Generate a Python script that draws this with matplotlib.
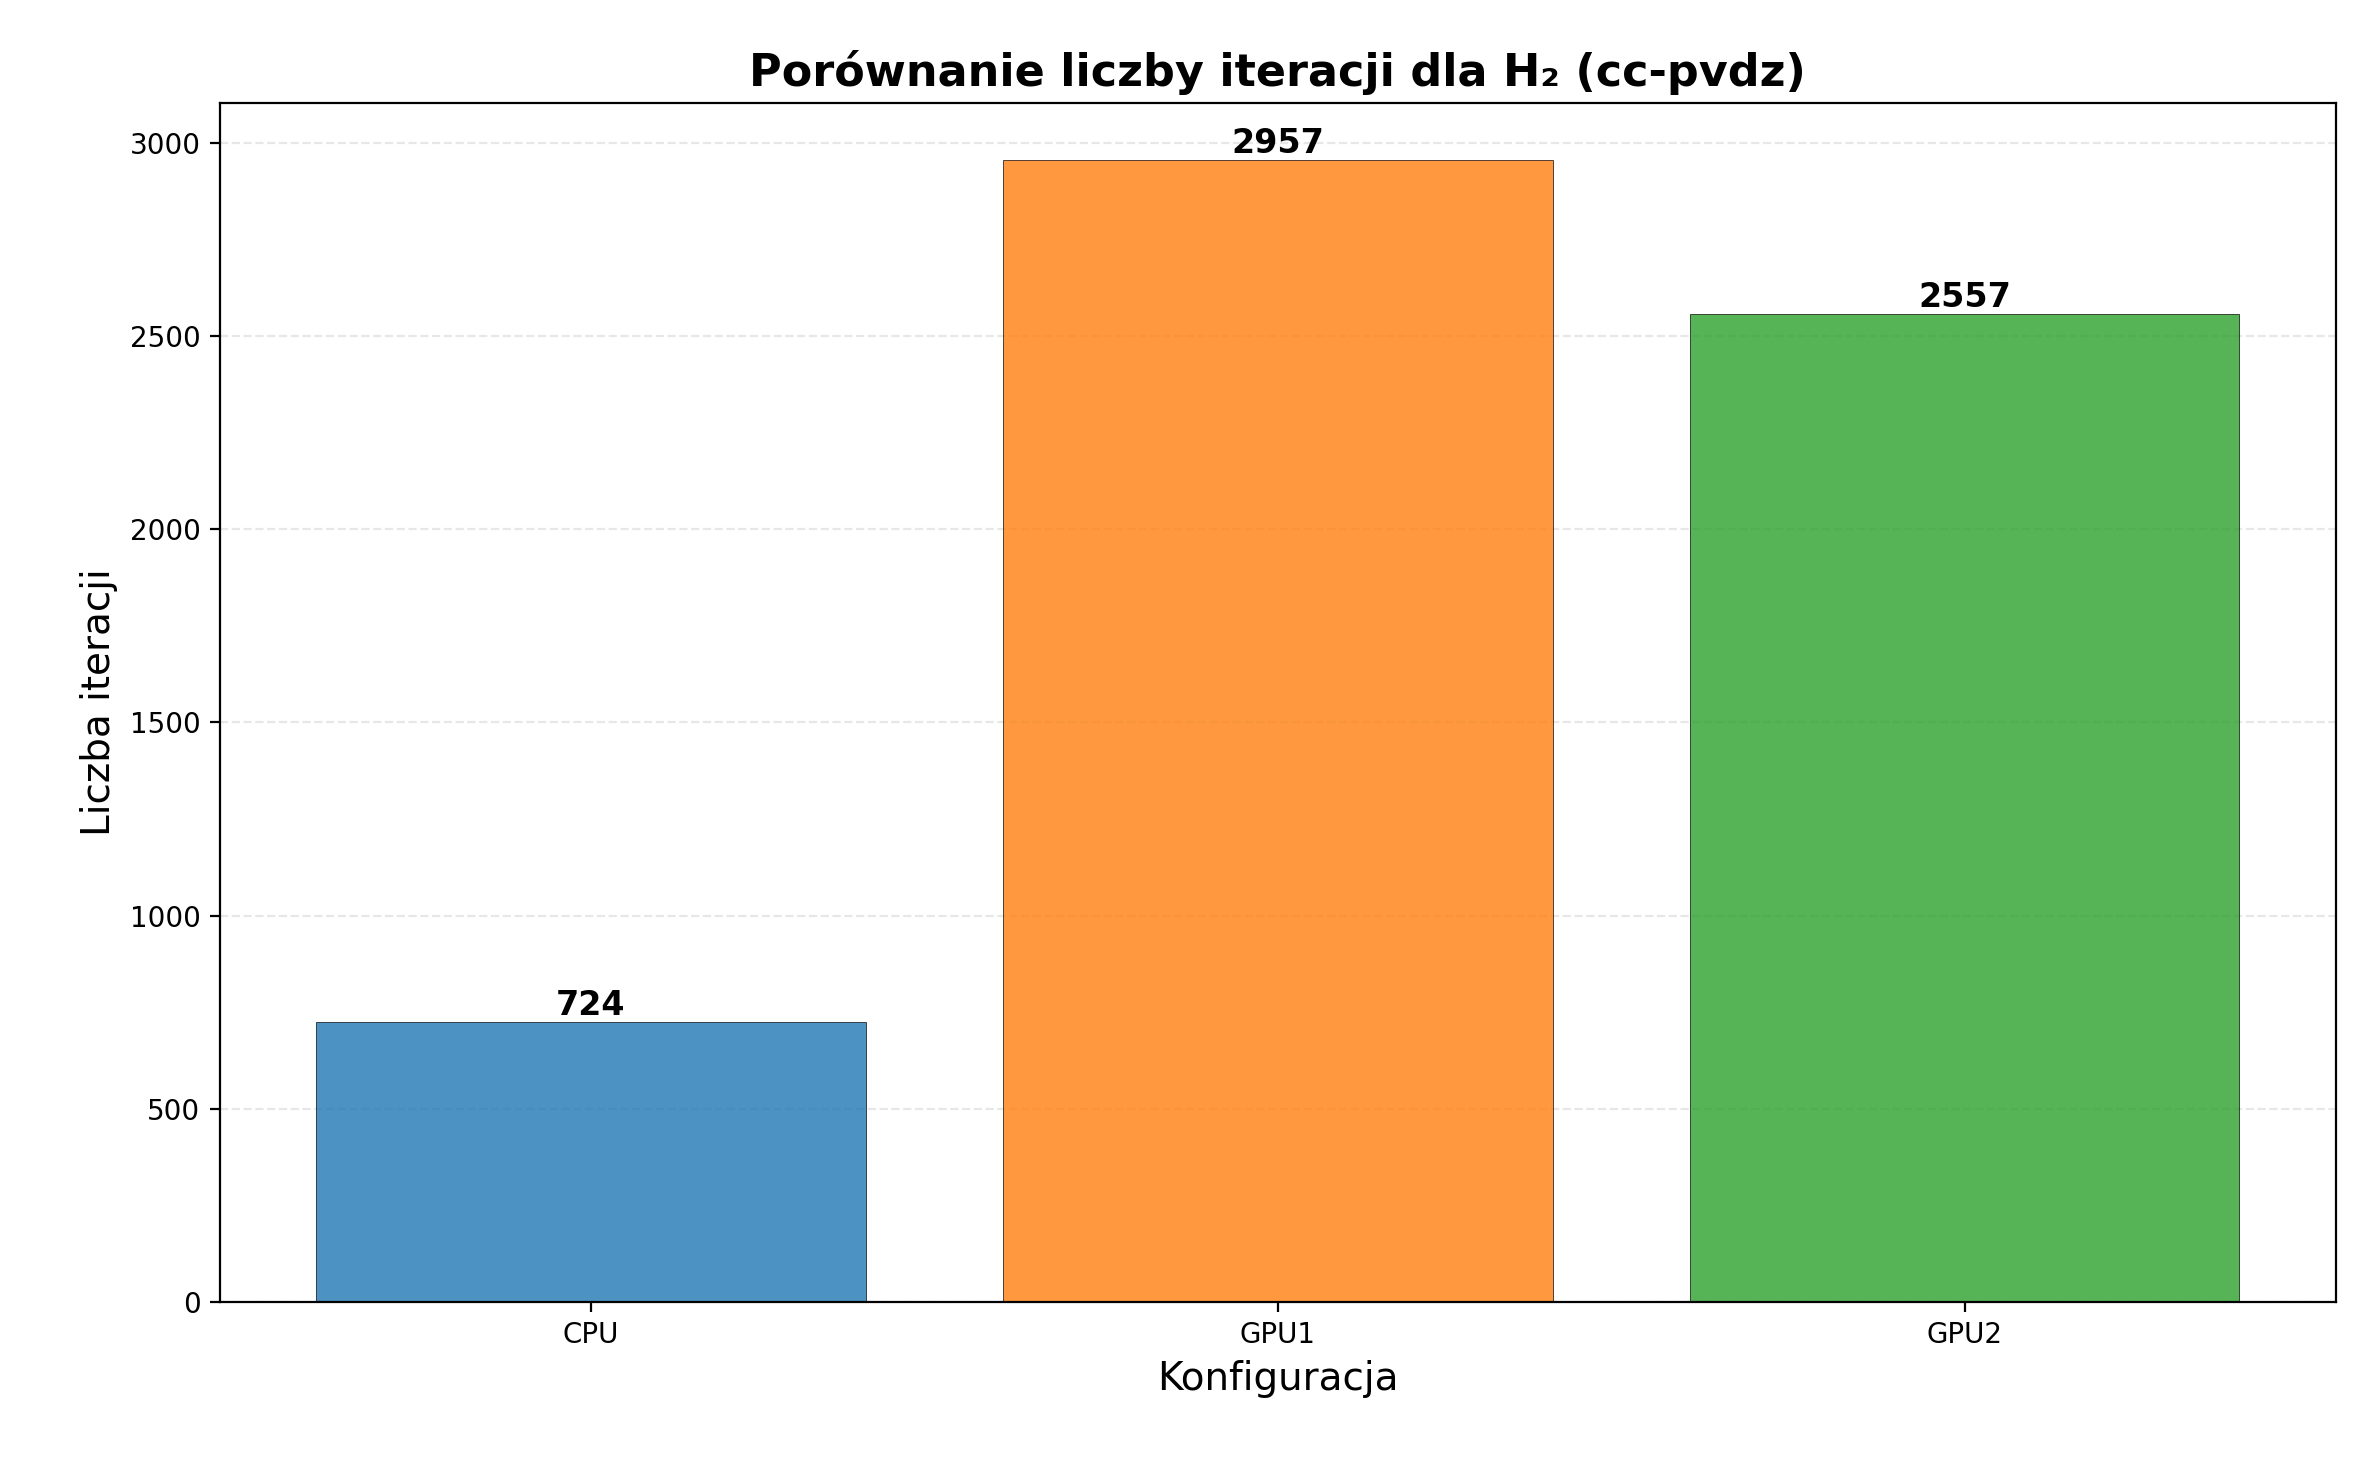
import matplotlib
matplotlib.use("Agg")
import matplotlib.pyplot as plt

categories = ["CPU", "GPU1", "GPU2"]
iterations = [724, 2957, 2557]
colors = ["#1f77b4", "#ff7f0e", "#2ca02c"]

fig = plt.figure(figsize=(11.82, 7.33), dpi=200)
ax = fig.add_axes([0.093, 0.112, 0.895, 0.818])
bars = ax.bar(categories, iterations, color=colors, alpha=0.8, edgecolor="black", linewidth=0.3)
for b, v in zip(bars, iterations):
    ax.text(b.get_x() + b.get_width() / 2, v, str(v), ha="center", va="bottom",
            fontsize=12, fontweight="bold")
ax.set_title("Porównanie liczby iteracji dla H₂ (cc-pvdz)", fontsize=16, fontweight="bold")
ax.set_xlabel("Konfiguracja", fontsize=14)
ax.set_ylabel("Liczba iteracji", fontsize=14)
ax.tick_params(labelsize=10)
ax.grid(axis="y", linestyle="--", alpha=0.3)
ax.set_axisbelow(True)
fig.savefig("out.png", dpi=200)
